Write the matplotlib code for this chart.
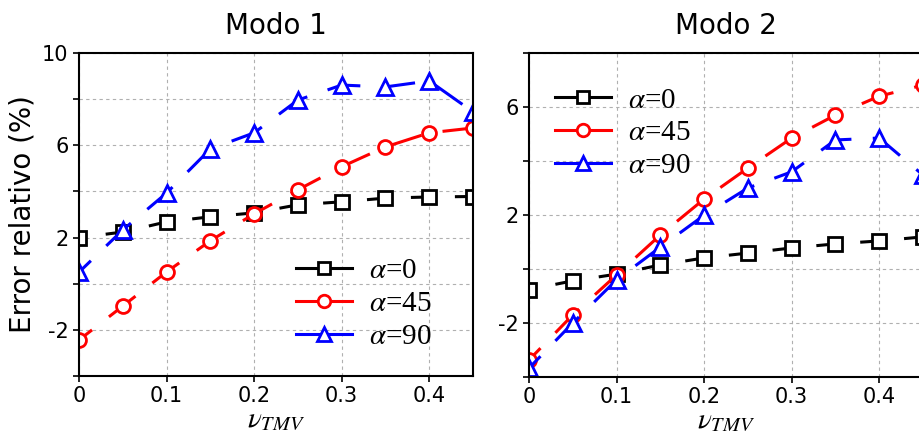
import matplotlib
matplotlib.use('Agg')
import matplotlib.pyplot as plt
from matplotlib.lines import Line2D

# relative error (%) vs nu_TMV for three fibre angles
nu = [0, 0.05, 0.1, 0.15, 0.2, 0.25, 0.3, 0.35, 0.4, 0.45]

modo1_a0 = [2.0, 2.24, 2.68, 2.90, 3.07, 3.42, 3.55, 3.71, 3.76, 3.78]
modo1_a45 = [-2.44, -0.97, 0.51, 1.86, 3.03, 4.07, 5.07, 5.93, 6.54, 6.75]
modo1_a90 = [0.50, 2.33, 3.93, 5.84, 6.54, 7.96, 8.61, 8.53, 8.79, 7.45]

modo2_a0 = [-0.76, -0.44, -0.19, 0.15, 0.41, 0.59, 0.78, 0.93, 1.04, 1.19]
modo2_a45 = [-3.37, -1.70, -0.22, 1.26, 2.59, 3.74, 4.85, 5.70, 6.40, 6.81]
modo2_a90 = [-3.67, -2.00, -0.40, 0.81, 1.99, 3.00, 3.60, 4.78, 4.85, 3.48]

labels = [r'$\alpha$=0', r'$\alpha$=45', r'$\alpha$=90']
titles = ['Modo 1', 'Modo 2']

plt.rcParams['mathtext.fontset'] = 'stix'

fig = plt.figure(figsize=(9.19, 4.33), dpi=100)
ax1 = fig.add_axes([79 / 919, 57 / 433, 394 / 919, 323 / 433])
ax2 = fig.add_axes([529 / 919, 56 / 433, 394 / 919, 324 / 433])

# colour, marker, marker size, dash style
styles = [('k', 's', 10, (5.6, (5.2, 9.2))),
          ('r', 'o', 10, (5.6, (11.0, 7.0))),
          ('b', '^', 11, (5.6, (11.0, 7.0)))]


def draw(ax, series, title, yticks, ylabels, ylim, legend_loc, anchor):
    handles = []
    for (c, m, ms, ls), ys, lab in zip(styles, series, labels):
        ax.plot(nu, ys, color=c, marker=m, markersize=ms, markerfacecolor='white',
                markeredgecolor=c, markeredgewidth=2.0, linewidth=2.2,
                linestyle=ls)
        handles.append(Line2D([], [], color=c, marker=m, markersize=ms - 1,
                              markerfacecolor='white', markeredgecolor=c,
                              markeredgewidth=2.0, linewidth=2.2, label=lab))
    ax.set_xlim(0, 0.45)
    ax.set_ylim(*ylim)
    ax.set_xticks([0, 0.1, 0.2, 0.3, 0.4])
    ax.set_xticklabels(['0', '0.1', '0.2', '0.3', '0.4'])
    ax.set_yticks(yticks)
    ax.set_yticklabels(ylabels)
    ax.tick_params(labelsize=15, direction='out', length=4, width=1.2,
                   top=False, right=False)
    ax.grid(True, color='#b0b0b0', linestyle=(0, (3, 3)), linewidth=0.8)
    for s in ax.spines.values():
        s.set_linewidth(1.5)
    ax.set_title(title, fontsize=20, pad=14)
    ax.set_xlabel(r'$\nu_{TMV}$', fontsize=21, labelpad=-1.5)
    ax.legend(handles=handles, loc=legend_loc, bbox_to_anchor=anchor,
              frameon=False, prop={'family': 'Liberation Serif', 'size': 21},
              handlelength=1.9, labelspacing=0.22, handletextpad=0.6,
              borderaxespad=0.5)


draw(ax1, [modo1_a0, modo1_a45, modo1_a90], titles[0],
     [-4, -2, 0, 2, 4, 6, 8, 10], ['', '-2', '', '2', '', '6', '', '10'],
     (-4, 10), 'lower right', (1 - 15 / 394, 0))
draw(ax2, [modo2_a0, modo2_a45, modo2_a90], titles[1],
     [-4, -2, 0, 2, 4, 6, 8], ['', '-2', '', '2', '', '6', ''],
     (-4, 8), 'upper left', (0, 1 - 8 / 324))

ax1.set_ylabel('Error relativo (%)', fontsize=20)

fig.savefig('out.png', dpi=100)
